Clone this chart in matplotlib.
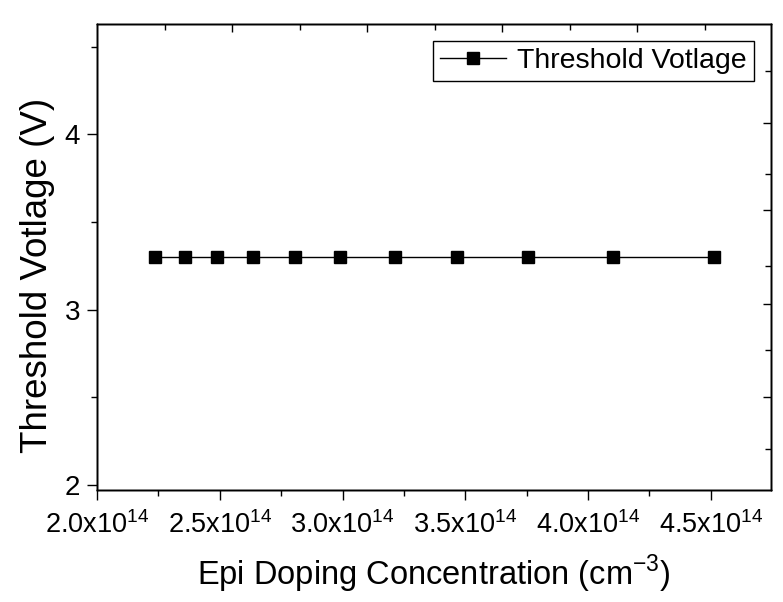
import matplotlib
matplotlib.use('Agg')
import matplotlib.pyplot as plt
from matplotlib.ticker import FuncFormatter, MultipleLocator

plt.rcParams['font.family'] = ['Liberation Sans', 'DejaVu Sans']
plt.rcParams['mathtext.fontset'] = 'custom'
plt.rcParams['mathtext.rm'] = 'Liberation Sans'

# data
doping = [2.235e14, 2.358e14, 2.490e14, 2.637e14, 2.807e14, 2.990e14,
          3.212e14, 3.465e14, 3.755e14, 4.102e14, 4.511e14]
vth = [3.30, 3.30, 3.30, 3.30, 3.30, 3.30, 3.30, 3.30, 3.30, 3.30, 3.30]

# odd tick positions on the top / right frame (no labels)
top_major = [2.55e14, 3.10e14, 3.65e14, 4.20e14]
top_minor = [2.275e14, 2.825e14, 3.375e14, 3.925e14, 4.475e14]
right_major = [2.503, 3.034, 3.566, 4.067]
right_minor = [2.202, 2.768, 3.247, 3.775, 4.364]

fig = plt.figure(figsize=(7.83, 6.02), dpi=100)
ax = fig.add_axes([0.1239, 0.186, 0.8608, 0.774])

ax.plot(doping, vth, color='black', linewidth=1, marker='s', markersize=8.5,
        label='Threshold Votlage')

ax.set_xlim(2.0e14, 4.745e14)
ax.set_ylim(1.97, 4.63)

ax.xaxis.set_major_locator(MultipleLocator(0.5e14))
ax.xaxis.set_minor_locator(MultipleLocator(0.25e14))
ax.yaxis.set_major_locator(MultipleLocator(1))
ax.yaxis.set_minor_locator(MultipleLocator(0.5))
ax.xaxis.set_major_formatter(FuncFormatter(
    lambda v, p: r'$\mathregular{%.1fx10^{14}}$' % (v / 1e14)))
ax.yaxis.set_major_formatter(FuncFormatter(lambda v, p: '%d' % v))

ax.tick_params(which='both', direction='out', top=False, right=False, width=1)
ax.tick_params(which='major', length=7)
ax.tick_params(which='minor', length=4)
ax.tick_params(axis='x', pad=8, labelsize=19.5)
ax.tick_params(axis='y', pad=5, labelsize=20)

# top axis and right axis with their own tick marks, pointing inward
axt = ax.twiny()
axt.set_xlim(ax.get_xlim())
axt.set_xticks(top_major)
axt.set_xticks(top_minor, minor=True)
axt.tick_params(which='both', direction='in', labeltop=False, width=1)
axt.tick_params(which='major', length=6)
axt.tick_params(which='minor', length=4)

axr = ax.twinx()
axr.set_ylim(ax.get_ylim())
axr.set_yticks(right_major)
axr.set_yticks(right_minor, minor=True)
axr.tick_params(which='both', direction='in', labelright=False, width=1)
axr.tick_params(which='major', length=6)
axr.tick_params(which='minor', length=4)

for a in (ax, axt, axr):
    for s in a.spines.values():
        s.set_linewidth(1)

ax.set_xlabel(r'Epi Doping Concentration (cm$^{\mathregular{-3}}$)', fontsize=23.5, labelpad=10)
ax.set_ylabel('Threshold Votlage (V)', fontsize=26.5)
ax.yaxis.set_label_coords(-0.062, 0.461)

leg = ax.legend(loc='upper right', fontsize=20.5, frameon=True, fancybox=False,
                edgecolor='black', handlelength=2.3, borderaxespad=0.6,
                borderpad=0.25, handletextpad=0.4)
leg.get_frame().set_linewidth(1)
leg.get_frame().set_alpha(1)
ax.set_zorder(axr.get_zorder() + 1)
ax.patch.set_visible(False)

plt.savefig('out.png', dpi=100)
